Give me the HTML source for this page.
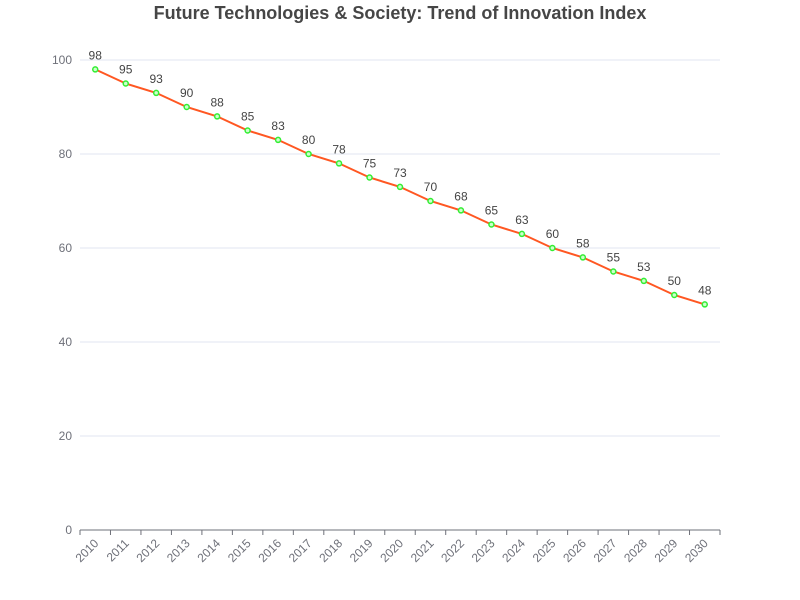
<!DOCTYPE html>
<html><head><meta charset="utf-8"><style>
body{margin:0;background:#fff;}
svg{display:block;font-family:"Liberation Sans",sans-serif;}
</style></head><body>
<svg id="c" width="800" height="600">
<text x="400" y="19" text-anchor="middle" font-size="18" font-weight="bold" fill="#464646">Future Technologies &amp; Society: Trend of Innovation Index</text>
</svg>
<script>
const categories=["2010","2011","2012","2013","2014","2015","2016","2017","2018","2019","2020","2021","2022","2023","2024","2025","2026","2027","2028","2029","2030"];
const values=[98,95,93,90,88,85,83,80,78,75,73,70,68,65,63,60,58,55,53,50,48];
const yTicks=[0,20,40,60,80,100];
const L=80,R=720,T=60,B=530,yMax=100;
const svg=document.getElementById('c');
const NS='http://www.w3.org/2000/svg';
const bw=(R-L)/categories.length;
const x=i=>L+bw*(i+0.5);
const y=v=>B-(v/yMax)*(B-T);
function mk(t,a){const e=document.createElementNS(NS,t);for(const k in a)e.setAttribute(k,a[k]);svg.appendChild(e);return e;}
yTicks.forEach(t=>{
  if(t>0){const g=mk('line',{x1:L,x2:R,y1:y(t),y2:y(t),stroke:'#e0e6f1'});
  
  }
  const l=mk('text',{x:L-8,y:y(t)+4,'text-anchor':'end','font-size':12,fill:'#6e7079'});l.textContent=t;
  
  
});
const ax=mk('line',{x1:L,x2:R,y1:B,y2:B,stroke:'#6e7079'});


for(let i=0;i<=categories.length;i++){const tk=mk('line',{x1:L+bw*i,x2:L+bw*i,y1:B,y2:B+5,stroke:'#6e7079'});

}
categories.forEach((c,i)=>{
  const t=mk('text',{x:x(i)+4,y:B+14,'text-anchor':'end','font-size':12,fill:'#6e7079',transform:`rotate(-45 ${x(i)+4} ${B+14})`});t.textContent=c;
  
  
});
const p=mk('polyline',{points:values.map((v,i)=>x(i)+','+y(v)).join(' '),fill:'none',stroke:'#ff5722','stroke-width':2});


values.forEach((v,i)=>{
  const c=mk('circle',{cx:x(i),cy:y(v),r:2.5,fill:'#ccffcc',stroke:'#33ee33','stroke-width':1.5});
  
  
  const t=mk('text',{x:x(i),y:y(v)-10,'text-anchor':'middle','font-size':12,fill:'#444'});t.textContent=v;
  
  
});
</script>
</body></html>
